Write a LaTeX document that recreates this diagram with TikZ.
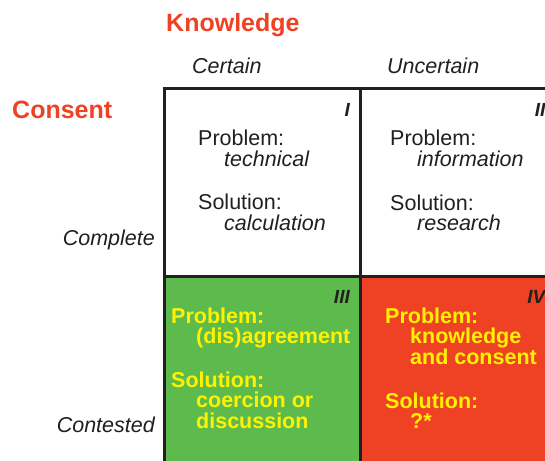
\documentclass[tikz,border=0pt]{standalone}
\usepackage{fontspec}
\setmainfont{Liberation Sans}
\definecolor{qgreen}{RGB}{93,187,78}
\definecolor{qred}{RGB}{239,65,35}
\definecolor{qyellow}{RGB}{255,242,0}
\definecolor{qink}{RGB}{35,31,32}
\definecolor{qhead}{RGB}{239,65,35}
\begin{document}
\begin{tikzpicture}[x=1pt,y=-1pt,
  grid/.style={draw=qink,line width=3pt},
  head/.style={anchor=base west,inner sep=0pt,text=qhead,font=\fontsize{25}{25}\selectfont\bfseries},
  axis/.style={inner sep=0pt,text=qink,font=\fontsize{21.5}{21.5}\selectfont\itshape},
  body/.style={anchor=base west,inner sep=0pt,text=qink,font=\fontsize{21.5}{21.5}\selectfont},
  bodyit/.style={body,font=\fontsize{21.5}{21.5}\selectfont\itshape},
  ybody/.style={anchor=base west,inner sep=0pt,text=qyellow,font=\fontsize{21.5}{21.5}\selectfont\bfseries},
  numeral/.style={anchor=base east,inner sep=0pt,text=qink,font=\fontsize{19}{19}\selectfont\bfseries\itshape}]
\useasboundingbox (0,0) rectangle (545,460);
\clip (0,0) rectangle (545,460);
\fill[white] (0,0) rectangle (545,460);
% cells
\fill[qgreen] (164.5,276) rectangle (360,463.5);
\fill[qred] (360,276) rectangle (555.5,463.5);
\draw[grid] (164.5,88.5) rectangle (555.5,463.5);
\draw[grid] (360,88.5) -- (360,463.5);
\draw[grid] (164.5,276) -- (555.5,276);
% headings
\node[head] (know) at (166,32) {Knowledge};
\node[head] (cons) at (12,118) {Consent};
\node[axis,anchor=base west] (cert) at (192,73) {Certain};
\node[axis,anchor=base west] (unc) at (387,73) {Uncertain};
\node[axis,anchor=base east] (comp) at (155,245) {Complete};
\node[axis,anchor=base east] (cont) at (155,432) {Contested};
% numerals
\node[numeral] (n1) at (350,116) {I};
\node[numeral] (n2) at (545.5,116) {II};
\node[numeral] (n3) at (350,303) {III};
\node[numeral] (n4) at (545.5,303) {IV};
% cell I
\node[body] (p1) at (198,145) {Problem:};
\node[bodyit] (t1) at (224,166) {technical};
\node[body] (s1) at (198,209) {Solution:};
\node[bodyit] (c1) at (224,230) {calculation};
% cell II
\node[body] (p2) at (390,145) {Problem:};
\node[bodyit] (t2) at (417,166) {information};
\node[body] (s2) at (390,210) {Solution:};
\node[bodyit] (c2) at (417,230) {research};
% cell III
\node[ybody] (p3) at (171,323) {Problem:};
\node[ybody] (t3) at (196,343) {(dis)agreement};
\node[ybody] (s3) at (171,387) {Solution:};
\node[ybody] (c3a) at (196,407) {coercion or};
\node[ybody] (c3b) at (196,428) {discussion};
% cell IV
\node[ybody] (p4) at (385,323) {Problem:};
\node[ybody] (t4a) at (410,343) {knowledge};
\node[ybody] (t4b) at (410,364) {and consent};
\node[ybody] (s4) at (385,408) {Solution:};
\node[ybody] (c4) at (410,428) {?*};
\end{tikzpicture}
\end{document}
